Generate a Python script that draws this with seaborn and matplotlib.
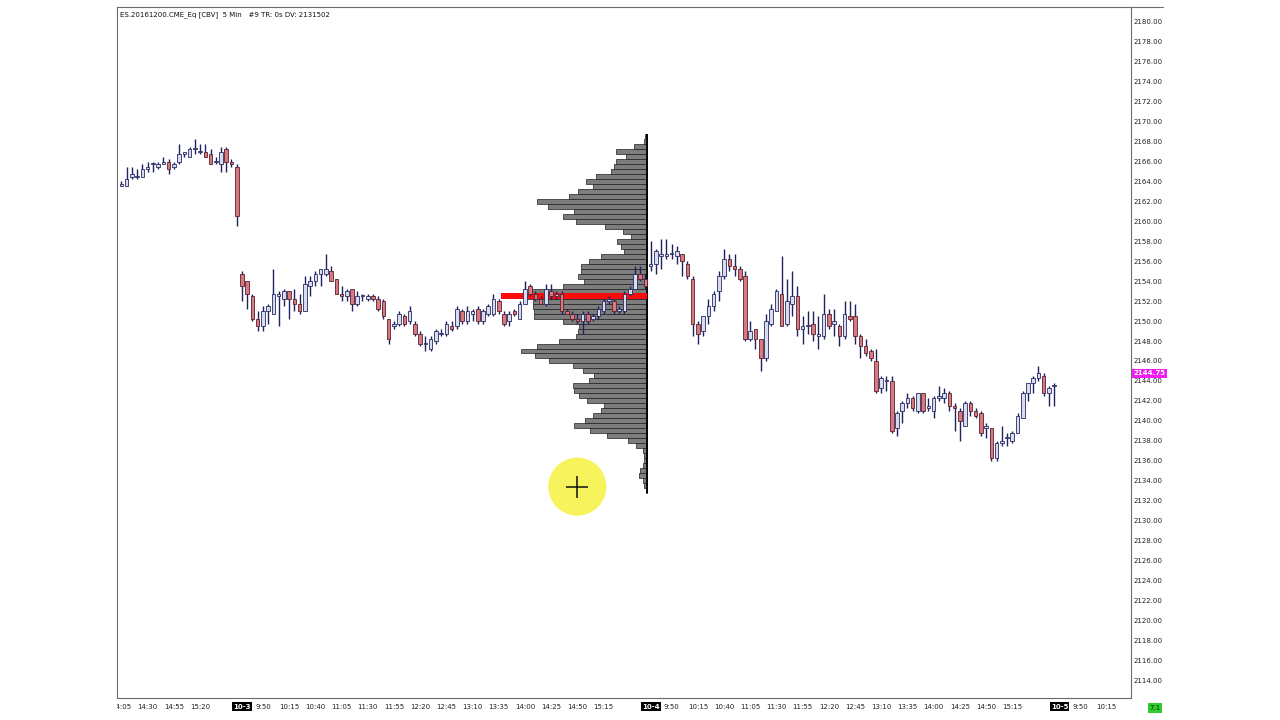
import numpy as np
import pandas as pd
import matplotlib
matplotlib.use("Agg")
import matplotlib.pyplot as plt
import seaborn as sns
from matplotlib.lines import Line2D
from matplotlib.transforms import Bbox, TransformedBbox, blended_transform_factory

sns.set_theme(style="white")
plt.rcParams['font.family'] = ['DejaVu Sans']

# ---------------- DATA ----------------
title_text = "ES.20161200.CME_Eq [CBV]  5 Min   #9 TR: 0s DV: 2131502"
last_price = 2144.75
counter_text = "7.1"

# sessions 9:30 .. 15:55, 5-minute bars (78 per day)
days = ["9-30", "10-3", "10-4", "10-5"]
first_time_9_30 = "14:05"

# (open, high, low, close)
ohlc_9_30 = [
    (2163.50, 2164.00, 2163.50, 2163.75), (2163.50, 2165.50, 2163.50, 2164.25),
    (2164.50, 2165.50, 2164.25, 2164.75), (2164.50, 2165.25, 2164.25, 2164.50),
    (2164.50, 2165.75, 2164.50, 2165.25), (2165.25, 2166.00, 2165.00, 2165.50),
    (2165.75, 2166.00, 2165.00, 2165.75), (2165.50, 2166.00, 2165.25, 2165.75),
    (2165.75, 2166.50, 2165.75, 2166.00), (2166.00, 2166.25, 2164.75, 2165.25),
    (2165.50, 2166.00, 2165.25, 2165.75), (2166.00, 2167.75, 2165.75, 2166.75),
    (2166.75, 2167.00, 2166.50, 2167.00), (2166.50, 2167.50, 2166.50, 2167.25),
    (2167.25, 2168.25, 2166.75, 2167.25), (2167.00, 2167.75, 2166.75, 2167.00),
    (2167.00, 2167.75, 2166.50, 2166.50), (2166.75, 2167.25, 2165.75, 2165.75),
    (2166.00, 2166.50, 2165.75, 2166.00), (2165.75, 2167.50, 2165.00, 2167.00),
    (2167.25, 2167.50, 2165.00, 2166.00), (2166.00, 2166.25, 2165.50, 2165.75),
    (2165.50, 2165.75, 2159.50, 2160.50),
]
ohlc_10_3 = [
    (2154.75, 2155.00, 2152.00, 2153.50), (2154.00, 2154.00, 2151.25, 2152.75),
    (2152.50, 2152.75, 2150.00, 2150.25), (2150.25, 2151.00, 2149.00, 2149.50),
    (2149.50, 2151.50, 2149.00, 2151.00), (2151.00, 2151.75, 2149.75, 2151.50),
    (2150.75, 2155.25, 2150.75, 2152.75), (2152.50, 2153.00, 2149.50, 2152.75),
    (2152.25, 2153.25, 2151.50, 2153.00), (2153.00, 2153.00, 2150.25, 2152.25),
    (2152.25, 2153.25, 2151.00, 2151.75), (2151.75, 2152.75, 2150.75, 2151.00),
    (2151.00, 2154.50, 2151.00, 2153.75), (2153.50, 2154.50, 2152.50, 2154.00),
    (2154.00, 2155.00, 2153.50, 2154.75), (2154.75, 2155.25, 2153.50, 2155.25),
    (2154.75, 2156.75, 2154.50, 2155.25), (2155.00, 2155.50, 2154.00, 2154.00),
    (2154.25, 2154.25, 2152.75, 2152.75), (2152.75, 2153.50, 2152.00, 2152.50),
    (2152.50, 2153.25, 2152.00, 2153.00), (2153.25, 2153.25, 2151.00, 2151.75),
    (2151.75, 2153.00, 2151.50, 2152.50), (2152.50, 2152.75, 2152.00, 2152.50),
    (2152.25, 2152.75, 2152.00, 2152.50), (2152.50, 2152.75, 2152.00, 2152.25),
    (2152.25, 2152.50, 2151.00, 2151.25), (2152.00, 2152.25, 2150.25, 2150.50),
    (2150.25, 2150.25, 2147.75, 2148.25), (2149.50, 2150.00, 2149.25, 2149.75),
    (2149.75, 2151.00, 2149.50, 2150.75), (2150.50, 2150.75, 2149.50, 2149.75),
    (2150.00, 2151.50, 2149.75, 2151.00), (2149.75, 2150.00, 2148.50, 2148.75),
    (2148.75, 2149.00, 2147.50, 2147.75), (2147.75, 2148.50, 2147.00, 2147.75),
    (2147.25, 2148.50, 2147.00, 2148.25), (2148.00, 2149.25, 2147.75, 2149.00),
    (2148.75, 2149.25, 2148.50, 2148.75), (2148.75, 2150.00, 2148.50, 2149.75),
    (2149.50, 2150.00, 2149.00, 2149.25), (2149.50, 2151.50, 2149.25, 2151.25),
    (2151.00, 2151.25, 2149.75, 2150.00), (2150.00, 2151.50, 2149.75, 2151.00),
    (2150.75, 2151.25, 2150.00, 2151.00), (2151.25, 2151.50, 2149.75, 2150.00),
    (2150.00, 2151.25, 2149.75, 2151.00), (2150.75, 2151.75, 2150.50, 2151.50),
    (2150.75, 2152.75, 2150.50, 2152.25), (2152.00, 2152.25, 2150.75, 2151.00),
    (2150.75, 2151.00, 2149.50, 2149.75), (2150.00, 2151.00, 2149.50, 2150.75),
    (2151.00, 2151.25, 2150.50, 2150.75), (2150.25, 2152.00, 2150.25, 2151.75),
    (2151.75, 2154.00, 2151.75, 2153.25), (2153.50, 2153.75, 2152.50, 2152.75),
    (2152.75, 2153.00, 2152.00, 2152.25), (2152.25, 2152.50, 2151.75, 2151.75),
    (2151.75, 2153.75, 2151.50, 2153.25), (2153.00, 2153.75, 2152.25, 2152.50),
    (2152.50, 2153.00, 2152.25, 2152.75), (2152.75, 2153.00, 2150.75, 2151.00),
    (2151.00, 2151.25, 2150.75, 2150.75), (2150.75, 2151.00, 2150.00, 2150.25),
    (2150.25, 2150.75, 2149.75, 2150.00), (2150.00, 2151.00, 2148.75, 2150.75),
    (2150.75, 2151.00, 2149.75, 2150.00), (2150.25, 2150.75, 2150.00, 2150.50),
    (2150.50, 2151.50, 2150.25, 2151.25), (2151.00, 2152.25, 2150.75, 2152.00),
    (2152.00, 2152.50, 2151.75, 2152.25), (2152.00, 2152.25, 2150.75, 2151.00),
    (2151.00, 2151.50, 2150.75, 2151.25), (2151.00, 2153.00, 2150.75, 2152.75),
    (2152.75, 2153.50, 2152.50, 2153.25), (2153.25, 2155.50, 2153.25, 2154.75),
    (2154.75, 2155.50, 2154.00, 2154.25), (2154.25, 2154.75, 2153.25, 2153.50),
]
ohlc_10_4 = [
    (2155.50, 2158.00, 2155.00, 2155.75), (2155.75, 2157.25, 2154.75, 2157.00),
    (2156.50, 2158.25, 2155.25, 2156.75), (2156.50, 2158.25, 2156.25, 2156.75),
    (2156.75, 2157.75, 2156.25, 2156.75), (2156.50, 2157.50, 2155.75, 2157.00),
    (2156.75, 2156.75, 2154.50, 2156.00), (2155.75, 2156.00, 2154.25, 2154.50),
    (2154.25, 2154.50, 2148.50, 2149.75), (2149.75, 2150.00, 2147.75, 2148.75),
    (2149.00, 2150.50, 2148.50, 2150.50), (2150.50, 2152.25, 2149.75, 2151.50),
    (2151.50, 2153.00, 2151.00, 2152.75), (2153.00, 2155.00, 2152.00, 2154.50),
    (2154.50, 2157.25, 2154.25, 2156.25), (2156.25, 2156.75, 2155.00, 2155.50),
    (2155.50, 2156.75, 2154.50, 2155.25), (2155.25, 2155.50, 2154.00, 2154.25),
    (2154.50, 2155.00, 2148.00, 2148.25), (2148.25, 2150.00, 2148.00, 2149.00),
    (2149.25, 2149.25, 2147.25, 2148.25), (2148.25, 2148.25, 2145.00, 2146.25),
    (2146.25, 2150.75, 2146.00, 2150.00), (2149.75, 2151.75, 2149.50, 2151.25),
    (2151.00, 2153.25, 2151.00, 2153.00), (2152.75, 2156.50, 2149.50, 2149.50),
    (2149.75, 2154.25, 2149.50, 2152.00), (2151.75, 2155.00, 2150.50, 2152.50),
    (2152.50, 2153.50, 2148.50, 2149.25), (2149.25, 2150.50, 2147.75, 2149.50),
    (2149.50, 2151.00, 2148.75, 2149.50), (2149.75, 2151.00, 2148.00, 2148.75),
    (2148.50, 2150.50, 2147.25, 2148.75), (2148.50, 2152.75, 2148.25, 2150.75),
    (2150.75, 2151.25, 2149.25, 2149.50), (2149.75, 2151.25, 2148.50, 2150.00),
    (2149.50, 2149.75, 2147.50, 2148.50), (2148.50, 2152.00, 2148.25, 2150.75),
    (2150.50, 2152.00, 2150.00, 2150.25), (2150.50, 2151.75, 2147.75, 2148.50),
    (2148.50, 2148.75, 2146.25, 2147.50), (2147.50, 2148.25, 2146.50, 2146.75),
    (2147.00, 2147.25, 2146.00, 2146.25), (2146.00, 2147.25, 2142.75, 2143.00),
    (2143.25, 2144.50, 2142.75, 2144.25), (2144.00, 2144.50, 2143.00, 2144.00),
    (2144.00, 2144.50, 2138.75, 2139.00), (2139.25, 2141.00, 2138.50, 2140.75),
    (2141.00, 2142.00, 2139.75, 2141.75), (2141.75, 2142.75, 2141.25, 2142.25),
    (2142.25, 2142.50, 2141.00, 2141.25), (2141.00, 2142.75, 2140.75, 2142.75),
    (2142.75, 2142.75, 2140.75, 2141.00), (2141.25, 2142.25, 2141.00, 2141.50),
    (2141.00, 2142.50, 2140.25, 2142.25), (2142.25, 2143.50, 2142.00, 2142.50),
    (2142.25, 2143.25, 2141.75, 2142.75), (2142.75, 2143.00, 2141.00, 2141.50),
    (2141.50, 2141.75, 2139.00, 2141.25), (2141.00, 2141.25, 2138.00, 2140.00),
    (2139.50, 2142.00, 2139.50, 2141.75), (2141.75, 2142.00, 2140.50, 2141.00),
    (2141.00, 2141.25, 2140.25, 2140.50), (2140.75, 2141.00, 2138.50, 2138.75),
    (2139.25, 2139.75, 2138.25, 2139.50), (2139.25, 2139.25, 2136.00, 2136.25),
    (2136.25, 2138.00, 2136.00, 2137.75), (2137.75, 2139.50, 2137.50, 2138.00),
    (2138.25, 2138.75, 2137.50, 2138.25), (2138.00, 2139.00, 2137.75, 2138.75),
    (2138.75, 2140.75, 2138.75, 2140.50), (2140.25, 2143.00, 2140.25, 2142.75),
    (2142.75, 2143.75, 2142.00, 2143.75), (2143.75, 2144.50, 2142.75, 2144.25),
    (2144.25, 2145.50, 2144.00, 2144.75), (2144.50, 2144.75, 2142.50, 2142.75),
    (2142.75, 2143.50, 2141.50, 2143.25), (2143.50, 2143.75, 2141.50, 2143.50),
]

# volume profile of the 10-3 session (relative volume per 0.5-point level)
profile_prices = [
    2168.5, 2168.0, 2167.5, 2167.0, 2166.5, 2166.0, 2165.5, 2165.0, 2164.5, 2164.0,
    2163.5, 2163.0, 2162.5, 2162.0, 2161.5, 2161.0, 2160.5, 2160.0, 2159.5, 2159.0,
    2158.5, 2158.0, 2157.5, 2157.0, 2156.5, 2156.0, 2155.5, 2155.0, 2154.5, 2154.0,
    2153.5, 2153.0, 2152.5, 2152.0, 2151.5, 2151.0, 2150.5, 2150.0, 2149.5, 2149.0,
    2148.5, 2148.0, 2147.5, 2147.0, 2146.5, 2146.0, 2145.5, 2145.0, 2144.5, 2144.0,
    2143.5, 2143.0, 2142.5, 2142.0, 2141.5, 2141.0, 2140.5, 2140.0, 2139.5, 2139.0,
    2138.5, 2138.0, 2137.5, 2137.0, 2136.5, 2136.0, 2135.5, 2135.0, 2134.5, 2134.0,
    2133.5, 2133.0,
]
profile_volume = [
    2, 3, 13, 31, 21, 31, 33, 36, 51, 61,
    54, 69, 78, 110, 99, 73, 84, 71, 42, 24,
    16, 30, 26, 23, 46, 58, 66, 66, 69, 63,
    84, 118, 120, 114, 114, 113, 113, 84, 68, 69,
    71, 88, 110, 126, 112, 98, 74, 64, 53, 58,
    74, 73, 68, 60, 43, 46, 54, 62, 73, 57,
    40, 19, 11, 4, 3, 3, 4, 7, 8, 4,
    3, 1,
]
# highlighted level (red line) and the session time where it starts
red_level_price = 2152.5
red_level_start_time = ("10-3", "13:40")

# time-axis labels shown under the chart
tick_times = [("9-30", "14:05"), ("9-30", "14:30"), ("9-30", "14:55"), ("9-30", "15:20")]
day_tick_times = ["9:30", "9:50", "10:15", "10:40", "11:05", "11:30", "11:55", "12:20",
                  "12:45", "13:10", "13:35", "14:00", "14:25", "14:50", "15:15"]
tick_times += [("10-3", t) for t in day_tick_times]
tick_times += [("10-4", t) for t in day_tick_times]
tick_times += [("10-5", "9:30"), ("10-5", "9:50"), ("10-5", "10:15")]

# mouse cursor highlight
cursor_time = ("10-3", "14:50")
cursor_price = 2133.4

# ---------------- helpers ----------------
BARS_PER_DAY = 78
day_offset = {d: (i - 1) * BARS_PER_DAY for i, d in enumerate(days)}


def bar_pos(day, hhmm):
    h, m = map(int, hhmm.split(":"))
    return day_offset[day] + ((h * 60 + m) - (9 * 60 + 30)) / 5.0


start_9_30 = bar_pos("9-30", first_time_9_30)
rows = []
for day, data, start in [("9-30", ohlc_9_30, start_9_30),
                         ("10-3", ohlc_10_3, day_offset["10-3"]),
                         ("10-4", ohlc_10_4, day_offset["10-4"])]:
    for k, (o, h, l, c) in enumerate(data):
        rows.append(dict(day=day, x=start + k, open=o, high=h, low=l, close=c))
df = pd.DataFrame(rows)
df["up"] = df["close"] >= df["open"]

# ---------------- figure ----------------
W, H = 1280, 720
fig = plt.figure(figsize=(W / 100, H / 100), dpi=100)
fig.patch.set_facecolor("white")
ax = fig.add_axes([117 / W, 1 - 698 / H, (1131 - 117) / W, (698 - 7) / H])
ax.set_facecolor("white")

# volume profile, anchored on the last bar of the 10-3 session
prof_right = day_offset["10-4"] - 0.7
prof_max_width = 24.0
widths = np.array(profile_volume, dtype=float) / max(profile_volume) * prof_max_width
ax.barh(profile_prices, -widths, left=prof_right, height=0.5, color="#7d7d7d",
        edgecolor="#1e1e1e", linewidth=0.5, zorder=1)
ax.vlines(prof_right, min(profile_prices) - 0.25, max(profile_prices) + 0.25,
          color="black", lw=1.3, zorder=2)

# red level line
red_left = bar_pos(*red_level_start_time) - 0.5
ax.barh([red_level_price], [prof_right - red_left], left=red_left, height=0.6,
        color="#ff0a0a", edgecolor="none", zorder=2)

# candles
up = df[df["up"]]
dn = df[~df["up"]]
ax.vlines(df["x"], df["low"], df["high"], color="#1f2260", lw=1.0, zorder=3)
body_w = 0.68
ax.bar(up["x"], np.maximum(up["close"] - up["open"], 0.08), bottom=up["open"],
       width=body_w, color="#d9dcea", edgecolor="#262a66", linewidth=0.6, zorder=4)
ax.bar(dn["x"], np.maximum(dn["open"] - dn["close"], 0.08), bottom=dn["close"],
       width=body_w, color="#d77a80", edgecolor="#5a2030", linewidth=0.6, zorder=4)

# cursor highlight
cx = bar_pos(*cursor_time)
ax.scatter([cx], [cursor_price], s=1750, color="#f6f34f", alpha=0.92,
           edgecolors="none", zorder=6)
ax.scatter([cx], [cursor_price], s=230, marker="+", color="#111111",
           linewidths=1.1, zorder=7)

# axes limits
ax.set_xlim(-23.85, 169.66)
ax.set_ylim(2112.2, 2181.5)

# y axis on right
yt = list(range(2114, 2181, 2))
ax.yaxis.tick_right()
ax.set_yticks(yt)
ax.set_yticklabels([f"{v:.2f}" for v in yt])
ax.tick_params(axis="y", length=0, pad=2, labelsize=5, colors="#222222")

# x axis
xt = [bar_pos(d, t) for d, t in tick_times]
xl = [d if t == "9:30" else t for d, t in tick_times]
ax.set_xticks(xt)
ax.set_xticklabels(xl)
ax.tick_params(axis="x", length=0, pad=4, labelsize=5, colors="#222222")
clip = TransformedBbox(Bbox([[117 / W, 0], [1, 1]]), fig.transFigure)
for lab in ax.get_xticklabels():
    lab.set_clip_box(clip)
    lab.set_clip_on(True)
    if "-" in lab.get_text():
        lab.set_color("white")
        lab.set_fontweight("bold")
        lab.set_bbox(dict(facecolor="black", edgecolor="none", pad=0.8))
ax.grid(False)

for s in ax.spines.values():
    s.set_color("#6a6a6a")
    s.set_linewidth(0.8)
fig.add_artist(Line2D([1131 / W, 1163 / W], [1 - 7 / H, 1 - 7 / H],
                      color="#6a6a6a", lw=0.8))

# title
ax.text(0.003, 0.994, title_text, transform=ax.transAxes, ha="left", va="top",
        fontsize=5, color="#111111")

# last price marker
tr = blended_transform_factory(ax.transAxes, ax.transData)
ax.text(1.0025, last_price, f"{last_price:.2f}", transform=tr, ha="left",
        va="center", fontsize=5, color="white", fontweight="bold",
        bbox=dict(facecolor="#f01cf0", edgecolor="none", pad=0.9), clip_on=False)

# counter box
fig.text(1155 / W, 1 - 708 / H, counter_text, ha="center", va="center", fontsize=5,
         color="#0b2a0b", bbox=dict(facecolor="#2ecc2e", edgecolor="none", pad=1.2))

fig.savefig("out.png", dpi=100, facecolor="white")
